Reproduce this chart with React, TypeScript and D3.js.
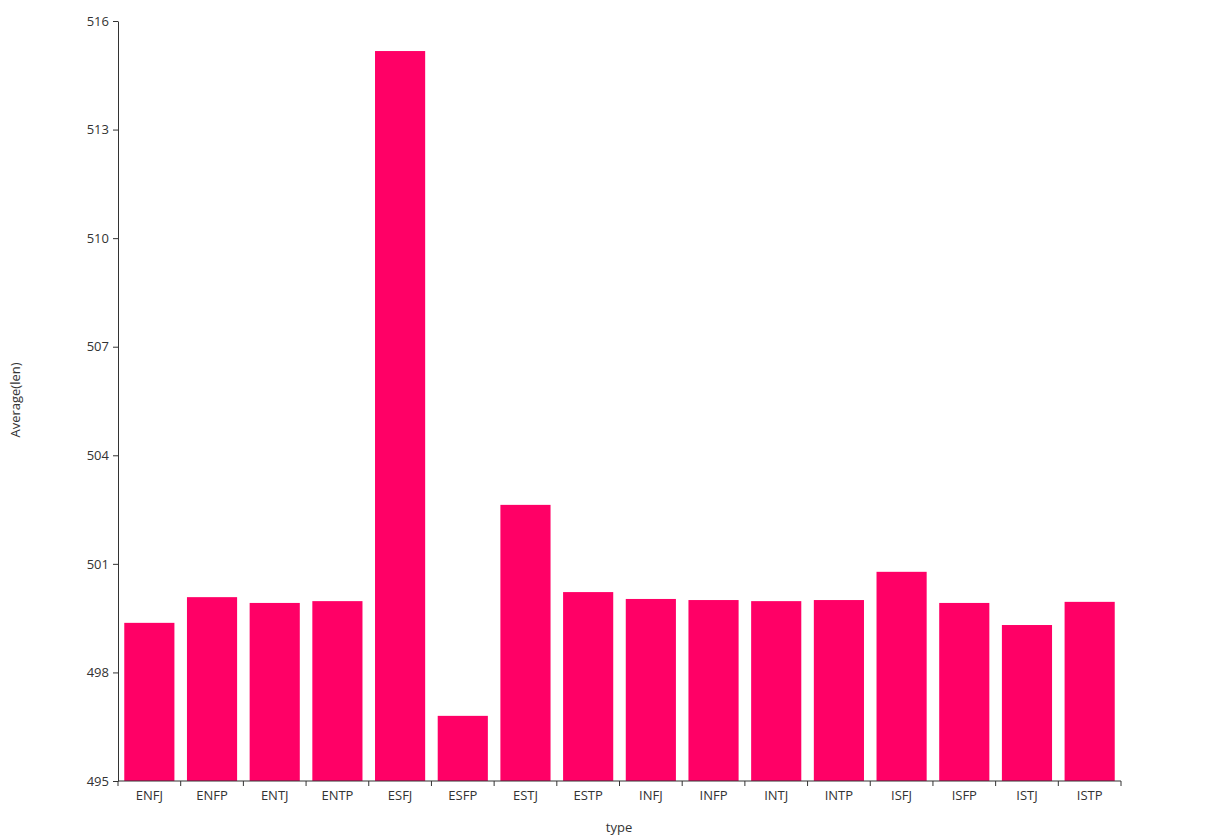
import React, { useEffect, useRef } from "react";
import * as d3 from "d3";

const categories = ["ENFJ","ENFP","ENTJ","ENTP","ESFJ","ESFP","ESTJ","ESTP","INFJ","INFP","INTJ","INTP","ISFJ","ISFP","ISTJ","ISTP"];
const values = [499.37,500.08,499.92,499.97,515.17,496.80,502.63,500.22,500.03,500.0,499.97,500.0,500.78,499.92,499.31,499.95];
const yTicks = [495,498,501,504,507,510,513,516];

const W = 1209, H = 839;
const M = { left: 118, top: 21, right: 1209 - 1121, bottom: 839 - 781 };

export default function App() {
  const ref = useRef<SVGSVGElement>(null);
  useEffect(() => {
    const svg = d3.select(ref.current);
    svg.selectAll("*").remove();
    const x = d3.scaleBand().domain(categories).range([M.left, W - M.right]).paddingInner(0.2).paddingOuter(0.1);
    const y = d3.scaleLinear().domain([495, 516]).range([H - M.bottom, M.top]);
    const font = "'Open Sans', 'Noto Sans', sans-serif";
    const fs = 13;

    svg.append("g").selectAll("rect").data(values).join("rect")
      .attr("x", (_, i) => x(categories[i])!)
      .attr("y", d => y(d))
      .attr("width", x.bandwidth())
      .attr("height", d => y(495) - y(d))
      .attr("fill", "#ff0066");

    const gy = svg.append("g").attr("transform", `translate(${M.left},0)`)
      .call(d3.axisLeft(y).tickValues(yTicks).tickSize(5).tickPadding(4).tickSizeOuter(0));
    gy.selectAll("text").attr("font-size", fs).attr("font-family", font).attr("fill", "#333");
    gy.selectAll("line,path").attr("stroke", "#333");

    const gx = svg.append("g").attr("transform", `translate(0,${H - M.bottom})`);
    gx.append("line").attr("x1", M.left).attr("x2", W - M.right).attr("stroke", "#333");
    const step = x.step();
    const edges = d3.range(categories.length + 1).map(i => M.left + i * step);
    gx.selectAll("line.t").data(edges).join("line").attr("class", "t")
      .attr("x1", d => d).attr("x2", d => d).attr("y1", 0).attr("y2", 5).attr("stroke", "#333");
    gx.selectAll("text").data(categories).join("text")
      .attr("x", d => x(d)! + x.bandwidth() / 2).attr("y", 19)
      .attr("text-anchor", "middle").attr("font-size", fs).attr("font-family", font).attr("fill", "#333")
      .text(d => d);

    svg.append("text").attr("x", 619).attr("y", 832).attr("text-anchor", "middle")
      .attr("font-size", fs).attr("font-family", font).attr("fill", "#333").text("type");
    svg.append("text").attr("transform", `translate(20,400) rotate(-90)`).attr("text-anchor", "middle")
      .attr("font-size", fs).attr("font-family", font).attr("fill", "#333").text("Average(len)");
  }, []);
  return <svg ref={ref} width={W} height={H} style={{ position: "absolute", left: 0, top: 0 }} />;
}
